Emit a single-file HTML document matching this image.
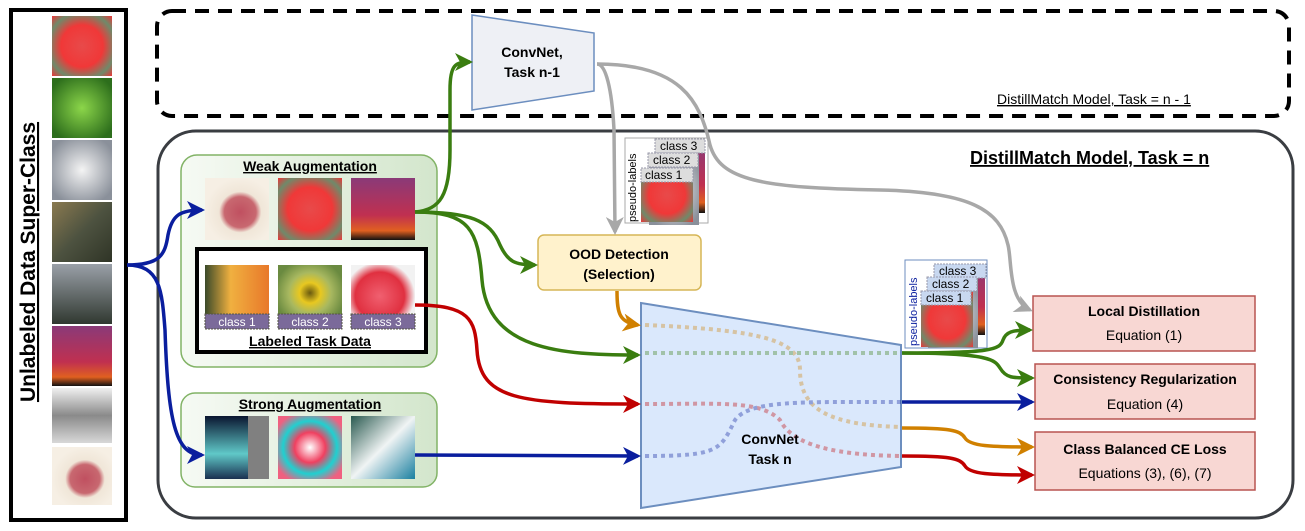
<!DOCTYPE html>
<html><head><meta charset="utf-8"><style>
body{margin:0;background:#fff}
svg{display:block;font-family:"Liberation Sans",sans-serif}
</style></head><body>
<svg width="1305" height="531" viewBox="0 0 1305 531" xmlns="http://www.w3.org/2000/svg">
<defs>
<radialGradient id="red" cx="50%" cy="50%" r="70%"><stop offset="0" stop-color="#e84a4a"/><stop offset=".5" stop-color="#f03838"/><stop offset=".8" stop-color="#6f8a6a"/><stop offset="1" stop-color="#e63a3a"/></radialGradient>
<radialGradient id="green" cx="50%" cy="50%" r="60%"><stop offset="0" stop-color="#8cd64a"/><stop offset="1" stop-color="#2d6e1c"/></radialGradient>
<radialGradient id="white" cx="50%" cy="50%" r="60%"><stop offset="0" stop-color="#f4f4f4"/><stop offset="1" stop-color="#8a909a"/></radialGradient>
<linearGradient id="rock" x1="0" y1="0" x2="1" y2="1"><stop offset="0" stop-color="#8a7a50"/><stop offset=".5" stop-color="#4d5240"/><stop offset="1" stop-color="#2f3426"/></linearGradient>
<linearGradient id="tree" x1="0" y1="0" x2="0" y2="1"><stop offset="0" stop-color="#9aa0a8"/><stop offset="1" stop-color="#303830"/></linearGradient>
<linearGradient id="sunset" x1="0" y1="0" x2="0" y2="1"><stop offset="0" stop-color="#8a3a78"/><stop offset=".6" stop-color="#c03050"/><stop offset=".85" stop-color="#e06020"/><stop offset="1" stop-color="#111"/></linearGradient>
<linearGradient id="gray" x1="0" y1="0" x2="0" y2="1"><stop offset="0" stop-color="#f0f0f0"/><stop offset=".5" stop-color="#8a8a8a"/><stop offset="1" stop-color="#d8d8d8"/></linearGradient>
<radialGradient id="apple" cx="55%" cy="55%" r="55%"><stop offset="0" stop-color="#c05060"/><stop offset=".45" stop-color="#c86870"/><stop offset=".6" stop-color="#f0e6d8"/><stop offset="1" stop-color="#f6efe4"/></radialGradient>
<linearGradient id="tulip" x1="0" y1="0" x2="1" y2="0"><stop offset="0" stop-color="#3a4a2a"/><stop offset=".4" stop-color="#f0b040"/><stop offset="1" stop-color="#e8782a"/></linearGradient>
<radialGradient id="sun" cx="50%" cy="45%" r="55%"><stop offset="0" stop-color="#6a5a10"/><stop offset=".3" stop-color="#e8c820"/><stop offset=".6" stop-color="#a8b860"/><stop offset="1" stop-color="#6a8a40"/></radialGradient>
<radialGradient id="rose" cx="45%" cy="50%" r="55%"><stop offset="0" stop-color="#f06070"/><stop offset=".7" stop-color="#e03040"/><stop offset="1" stop-color="#f2f2f2"/></radialGradient>
<linearGradient id="s1" x1="0" y1="0" x2="0" y2="1"><stop offset="0" stop-color="#0a1530"/><stop offset=".6" stop-color="#60c8c8"/><stop offset="1" stop-color="#1a3050"/></linearGradient>
<radialGradient id="s2" cx="50%" cy="50%" r="60%"><stop offset="0" stop-color="#fff"/><stop offset=".4" stop-color="#f04060"/><stop offset=".7" stop-color="#20d0d0"/><stop offset="1" stop-color="#f06080"/></radialGradient>
<linearGradient id="s3" x1="0" y1="0" x2="1" y2="1"><stop offset="0" stop-color="#2a5a50"/><stop offset=".5" stop-color="#f0f4f4"/><stop offset="1" stop-color="#1a80a0"/></linearGradient>
<linearGradient id="gbox" x1="0" y1="0" x2="1" y2="0"><stop offset="0" stop-color="#f6faf4"/><stop offset="1" stop-color="#d3e6cc"/></linearGradient>
<marker id="ag" markerWidth="18" markerHeight="18" refX="15" refY="9" orient="auto" markerUnits="userSpaceOnUse"><path d="M0,0 L18,9 L0,18 L5,9Z" fill="#3a7d10"/></marker>
<marker id="ab2" markerWidth="18" markerHeight="18" refX="15" refY="9" orient="auto" markerUnits="userSpaceOnUse"><path d="M0,0 L18,9 L0,18 L5,9Z" fill="#0a1e9e"/></marker>
<marker id="ar" markerWidth="18" markerHeight="18" refX="15" refY="9" orient="auto" markerUnits="userSpaceOnUse"><path d="M0,0 L18,9 L0,18 L5,9Z" fill="#c00000"/></marker>
<marker id="ao" markerWidth="18" markerHeight="18" refX="15" refY="9" orient="auto" markerUnits="userSpaceOnUse"><path d="M0,0 L18,9 L0,18 L5,9Z" fill="#d08000"/></marker>
<marker id="agr" markerWidth="18" markerHeight="18" refX="15" refY="9" orient="auto" markerUnits="userSpaceOnUse"><path d="M0,0 L18,9 L0,18 L5,9Z" fill="#a8a8a8"/></marker>
</defs>

<rect x="11" y="10" width="115" height="510" fill="#fff" stroke="#000" stroke-width="4"/>
<text transform="translate(35,262) rotate(-90)" text-anchor="middle" font-size="21" font-weight="bold" text-decoration="underline">Unlabeled  Data  Super-Class</text>
<rect x="52" y="16" width="60" height="60" fill="url(#red)"/>
<rect x="52" y="78" width="60" height="60" fill="url(#green)"/>
<rect x="52" y="140" width="60" height="60" fill="url(#white)"/>
<rect x="52" y="202" width="60" height="60" fill="url(#rock)"/>
<rect x="52" y="264" width="60" height="60" fill="url(#tree)"/>
<rect x="52" y="326" width="60" height="60" fill="url(#sunset)"/>
<rect x="52" y="388" width="60" height="55" fill="url(#gray)"/>
<rect x="52" y="447" width="60" height="58" fill="url(#apple)"/>

<rect x="157" y="11" width="1132" height="105" rx="15" fill="none" stroke="#000" stroke-width="4" stroke-dasharray="14,9"/>
<text x="997" y="104" font-size="14" text-decoration="underline">DistillMatch Model, Task = n - 1</text>

<rect x="158" y="131" width="1135" height="387" rx="38" fill="none" stroke="#3a3d42" stroke-width="3"/>
<text x="970" y="164" font-size="18" font-weight="bold" text-decoration="underline">DistillMatch Model, Task = n</text>

<rect x="181" y="155" width="256" height="212" rx="16" fill="url(#gbox)" stroke="#82b366" stroke-width="1.5"/>
<text x="310" y="171" text-anchor="middle" font-size="14" font-weight="bold" text-decoration="underline">Weak Augmentation</text>
<rect x="205" y="178" width="64" height="62" fill="url(#apple)"/>
<rect x="278" y="178" width="64" height="62" fill="url(#red)"/>
<rect x="351" y="178" width="64" height="62" fill="url(#sunset)"/>
<rect x="197" y="249" width="229" height="103" fill="#fff" stroke="#000" stroke-width="4"/>
<rect x="205" y="265" width="64" height="62" fill="url(#tulip)"/>
<rect x="278" y="265" width="64" height="62" fill="url(#sun)"/>
<rect x="351" y="265" width="64" height="62" fill="url(#rose)"/>
<g font-size="12" fill="#fff" text-anchor="middle">
<rect x="205" y="314" width="64" height="15" fill="#7b6a9a" stroke="#554" stroke-dasharray="2,1"/><text x="237" y="326">class 1</text>
<rect x="278" y="314" width="64" height="15" fill="#7b6a9a" stroke="#554" stroke-dasharray="2,1"/><text x="310" y="326">class 2</text>
<rect x="351" y="314" width="64" height="15" fill="#7b6a9a" stroke="#554" stroke-dasharray="2,1"/><text x="383" y="326">class 3</text>
</g>
<text x="310" y="346" text-anchor="middle" font-size="14" font-weight="bold" text-decoration="underline">Labeled Task Data</text>

<rect x="181" y="393" width="256" height="94" rx="14" fill="url(#gbox)" stroke="#82b366" stroke-width="1.5"/>
<text x="310" y="409" text-anchor="middle" font-size="14" font-weight="bold" text-decoration="underline">Strong Augmentation</text>
<rect x="205" y="416" width="44" height="63" fill="url(#s1)"/><rect x="248" y="416" width="21" height="63" fill="#808080"/>
<rect x="278" y="416" width="64" height="63" fill="url(#s2)"/>
<rect x="351" y="416" width="64" height="63" fill="url(#s3)"/>

<path d="M472,15 L594,33 L594,91 L472,110 Z" fill="#eef0f5" stroke="#6c8ebf" stroke-width="1.5"/>
<text x="532" y="57" text-anchor="middle" font-size="14" font-weight="bold">ConvNet,</text>
<text x="532" y="77" text-anchor="middle" font-size="14" font-weight="bold">Task  n-1</text>

<rect x="538" y="235" width="163" height="55" rx="6" fill="#fff2cc" stroke="#d6b656" stroke-width="1.5"/>
<text x="619" y="259" text-anchor="middle" font-size="14" font-weight="bold">OOD Detection</text>
<text x="619" y="279" text-anchor="middle" font-size="14" font-weight="bold">(Selection)</text>

<path d="M641,303 L901,345 L901,467 L641,508 Z" fill="#dae8fc" stroke="#6c8ebf" stroke-width="2"/>
<g fill="none" stroke-width="4" stroke-dasharray="4,4" opacity=".35">
<path d="M645,325 C760,330 800,340 800,370 C800,410 830,425 901,427" stroke="#d08000"/>
<path d="M645,353 L901,353" stroke="#3a7d10"/>
<path d="M645,404 C720,404 760,400 780,420 C790,440 820,455 901,456" stroke="#c00000"/>
<path d="M645,456 C720,456 720,450 735,420 C750,400 800,402 901,402" stroke="#0a1e9e"/>
</g>
<text x="770" y="444" text-anchor="middle" font-size="14" font-weight="bold">ConvNet</text>
<text x="770" y="464" text-anchor="middle" font-size="14" font-weight="bold">Task n</text>

<g stroke="#b85450" stroke-width="1.5" fill="#f8d7d3">
<rect x="1033" y="296" width="222" height="55"/>
<rect x="1035" y="364" width="220" height="55"/>
<rect x="1035" y="432" width="220" height="58"/>
</g>
<g text-anchor="middle" font-size="14">
<text x="1144" y="316" font-weight="bold">Local Distillation</text><text x="1144" y="340">Equation (1)</text>
<text x="1145" y="384" font-weight="bold">Consistency Regularization</text><text x="1145" y="409">Equation (4)</text>
<text x="1145" y="454" font-weight="bold">Class Balanced CE Loss</text><text x="1145" y="478">Equations (3), (6), (7)</text>
</g>

<g>
<rect x="625" y="138" width="83" height="85" fill="#fff" stroke="#aaa"/>
<text transform="translate(636,222) rotate(-90)" font-size="11">pseudo-labels</text>
<rect x="655" y="143" width="50" height="70" fill="url(#sunset)"/>
<rect x="649" y="155" width="50" height="70" fill="url(#white)"/>
<rect x="641" y="168" width="52" height="54" fill="url(#red)"/>
<rect x="655" y="139" width="50" height="14" fill="#ddd" stroke="#99a" stroke-dasharray="2,1"/><text x="660" y="150" font-size="12">class 3</text>
<rect x="648" y="153" width="50" height="14" fill="#ddd" stroke="#99a" stroke-dasharray="2,1"/><text x="653" y="164" font-size="12">class 2</text>
<rect x="641" y="168" width="52" height="14" fill="#ddd" stroke="#99a" stroke-dasharray="2,1"/><text x="645" y="179" font-size="12">class 1</text>
</g>
<g>
<rect x="905" y="260" width="82" height="88" fill="#fff" stroke="#6c8ebf"/>
<text transform="translate(917,346) rotate(-90)" font-size="11" fill="#0a1e9e">pseudo-labels</text>
<rect x="935" y="265" width="50" height="70" fill="url(#sunset)"/>
<rect x="928" y="278" width="50" height="70" fill="url(#white)"/>
<rect x="921" y="292" width="52" height="55" fill="url(#red)"/>
<rect x="934" y="264" width="52" height="14" fill="#c8d8f0" stroke="#99a" stroke-dasharray="2,1"/><text x="939" y="275" font-size="12">class 3</text>
<rect x="927" y="277" width="50" height="14" fill="#c8d8f0" stroke="#99a" stroke-dasharray="2,1"/><text x="932" y="288" font-size="12">class 2</text>
<rect x="921" y="291" width="50" height="14" fill="#c8d8f0" stroke="#99a" stroke-dasharray="2,1"/><text x="926" y="302" font-size="12">class 1</text>
</g>

<g fill="none" stroke-width="3.5">
<path d="M127,265 C160,265 165,255 168,235 C172,215 180,210 202,210" stroke="#0a1e9e" marker-end="url(#ab2)"/>
<path d="M127,265 C160,265 162,290 165,330 C168,420 175,455 202,455" stroke="#0a1e9e" marker-end="url(#ab2)"/>
<path d="M415,212 C440,210 450,195 450,150 L450,90 C450,65 455,62 470,62" stroke="#3a7d10" marker-end="url(#ag)"/>
<path d="M415,212 C470,212 490,220 500,245 C508,262 515,265 535,265" stroke="#3a7d10" marker-end="url(#ag)"/>
<path d="M415,212 C470,212 478,230 482,280 C488,350 560,355 638,355" stroke="#3a7d10" marker-end="url(#ag)"/>
<path d="M415,305 C470,305 475,320 477,350 C480,400 520,404 638,404" stroke="#c00000" marker-end="url(#ar)"/>
<path d="M415,455 L638,456" stroke="#0a1e9e" marker-end="url(#ab2)"/>
<path d="M617,291 C617,315 620,322 638,325" stroke="#d08000" marker-end="url(#ao)"/>
<path d="M597,64 C606,64 612,90 614,130 L615,232" stroke="#a8a8a8" marker-end="url(#agr)"/>
<path d="M597,64 C680,64 700,100 710,145 C720,180 760,188 880,190 C970,192 1000,210 1008,245 C1012,260 1008,300 1030,310" stroke="#a8a8a8" marker-end="url(#agr)"/>
<path d="M902,353 C990,353 1000,350 1003,340 C1006,332 1012,330 1030,330" stroke="#3a7d10" marker-end="url(#ag)"/>
<path d="M902,353 C990,353 995,360 1000,368 C1006,378 1012,378 1032,378" stroke="#3a7d10" marker-end="url(#ag)"/>
<path d="M902,402 L1032,402" stroke="#0a1e9e" marker-end="url(#ab2)"/>
<path d="M902,428 C950,428 960,430 965,438 C970,446 990,447 1032,447" stroke="#d08000" marker-end="url(#ao)"/>
<path d="M902,456 C950,456 960,458 965,466 C970,474 990,475 1032,475" stroke="#c00000" marker-end="url(#ar)"/>
</g>
</svg>
</body></html>
